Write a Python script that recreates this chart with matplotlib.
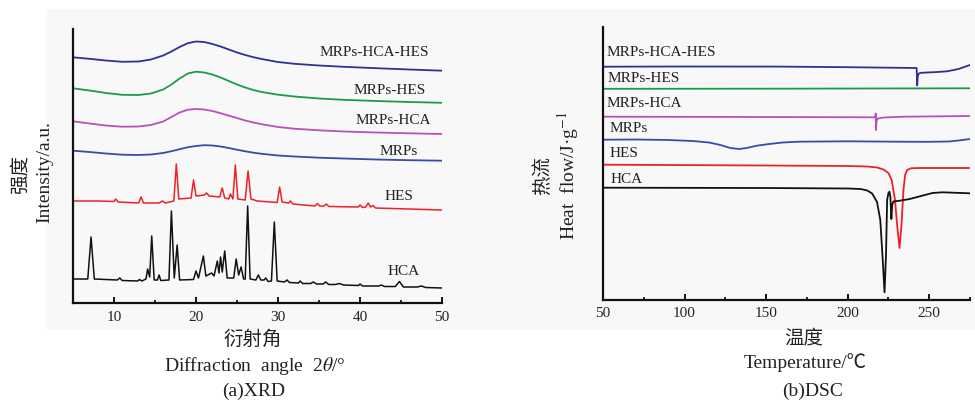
import matplotlib
matplotlib.use("Agg")
import matplotlib.pyplot as plt
from matplotlib.patches import Rectangle
from matplotlib.ticker import MultipleLocator

plt.rcParams['font.family'] = ['Liberation Serif', 'Noto Sans CJK SC', 'DejaVu Sans']
plt.rcParams['mathtext.fontset'] = 'stix'

# ---------------- XRD data (a.u.) ----------------
xrd_broad_x = [5, 7, 9, 11, 13, 14.5, 16, 17, 18, 19, 20, 21, 22, 23, 24, 25,
               26, 27, 28, 30, 32, 35, 38, 42, 46, 50]
xrd_mrps_hca_hes = [245.7, 244.2, 242.5, 241.2, 241.5, 243.5, 247.5, 251.5, 256, 259.8,
                    261.5, 261, 259, 256.5, 253.5, 250.5, 248, 245.8, 244, 241,
                    239.2, 237.5, 236.2, 234.8, 233.5, 232.3]
xrd_mrps_hes = [214.7, 212.5, 210, 208.2, 208, 209.5, 213.5, 218.5, 224.5, 229.5,
                231.3, 230.5, 228.5, 225.5, 222, 218.5, 215.5, 213, 211, 208.3,
                206.5, 204.5, 203.2, 202, 201, 200.2]
xrd_mrps_hca = [181.7, 179.5, 177.5, 176.3, 176.5, 178, 181.5, 186, 190.5, 193.3,
                194, 193.5, 192, 189.8, 187.3, 185, 182.5, 180.5, 178.8, 176,
                174.3, 172.7, 171.5, 170.5, 169.7, 169]
xrd_mrps = [152.3, 151, 149.5, 148.3, 148, 148.5, 150, 151.8, 153.8, 155.8,
            157, 157.8, 157.5, 156.5, 155, 153.3, 151.7, 150.3, 149.2, 147.5,
            146.5, 145.3, 144.5, 143.5, 142.8, 142.3]

xrd_hes_x = [5, 8, 10.0, 10.2, 10.5, 13.0, 13.3, 13.6, 15.5, 15.9, 16.3, 17.3, 17.6, 17.9,
             19.4, 19.7, 20.0, 21.0, 21.3, 21.6, 22.9, 23.2, 23.5, 24.0, 24.2, 24.5,
             24.8, 25.1, 26.0, 26.35, 26.7, 27.5, 29.9, 30.2, 30.5, 31.3, 31.5, 31.8,
             34.5, 34.8, 35.1, 35.6, 35.9, 36.2, 39.8, 40.0, 40.3, 40.7, 41.0, 41.3,
             41.6, 41.9, 50]
xrd_hes_y = [102, 102, 101.5, 104, 101, 100, 106, 100, 100, 102, 100, 102, 139, 104,
             105, 123, 107, 108, 110, 107, 106, 115, 105, 104, 109, 104,
             138, 104, 103, 132, 104, 102, 100.5, 116, 101, 100, 102, 99,
             97, 99.5, 97, 97, 99, 96.5, 96, 98, 95.5, 96, 100, 96,
             97.5, 95, 93]

xrd_hca_x = [5, 6.8, 7.2, 7.6, 10.4, 10.7, 11.0, 12.9, 13.1, 13.4, 13.9, 14.1, 14.35, 14.6,
             14.9, 15.3, 15.5, 15.7, 16.7, 17.0, 17.35, 17.7, 18.0, 19.7, 20.0, 20.3,
             20.9, 21.2, 21.9, 22.2, 22.6, 22.8, 23.0, 23.2, 23.5, 23.8, 24.6, 24.9,
             25.2, 25.5, 25.8, 26.0, 26.3, 26.6, 27.3, 27.6, 27.9, 28.3, 28.5, 28.8,
             29.2, 29.55, 29.9, 30.8, 31.1, 31.4, 32.5, 32.7, 33.0, 34.0, 34.3, 34.7,
             35.5, 35.8, 36.2, 37.0, 37.5, 38.0, 39.8, 40.0, 40.3, 42.3, 42.6, 43.0,
             44.3, 44.8, 45.3, 47.0, 47.5, 48.0, 50]
xrd_hca_y = [24, 24, 66, 24, 23, 25, 22.5, 22, 23.5, 22, 24, 34, 26, 67,
             23, 23, 28, 22.5, 23, 92, 25, 58, 23, 23.5, 32, 25,
             47, 27, 30, 27, 42, 30, 46, 31, 52, 25, 25, 44,
             28, 36, 24, 24, 97, 24, 23, 28, 23, 23, 25, 21.5,
             22, 81, 22, 21, 23, 20.5, 20, 22, 19.5, 19.5, 21, 19,
             19, 21, 18.5, 18.5, 19.5, 18, 17.5, 19, 17, 17, 18, 16.5,
             16.5, 21.5, 16, 16, 17, 15.5, 15]

# ---------------- DSC data (a.u.) ----------------
dsc_mrps_hca_hes_x = [50, 100, 158, 200, 242.3, 242.6, 243.0, 243.6, 245, 250, 255, 261, 268, 275]
dsc_mrps_hca_hes_y = [233.3, 233.5, 233.4, 232.8, 232, 214.5, 224, 226.5, 227.2, 227.6, 228, 228.7, 231, 235]

dsc_mrps_hes_x = [50, 150, 275]
dsc_mrps_hes_y = [211.2, 211.3, 211.7]

dsc_mrps_hca_x = [50, 150, 217.0, 217.2, 217.35, 217.7, 218.5, 222, 235, 275]
dsc_mrps_hca_y = [183.3, 183, 182.7, 186.5, 170, 179, 181.5, 182.5, 183.3, 184]

dsc_mrps_x = [50, 70, 90, 105, 115, 122, 128, 133.5, 138, 145, 152, 160, 170, 200,
              230, 250, 262, 268, 275]
dsc_mrps_y = [160.3, 160.5, 160, 159, 157.5, 155, 152, 151, 152, 154.5, 156, 157.5, 158.3, 158.7,
              158.3, 158.2, 158.5, 159.5, 161]

dsc_hes_x = [50, 150, 200, 212, 218, 222, 225, 227, 229, 230.5, 231.8, 233, 234.2, 235.2,
             236.5, 239, 245, 275]
dsc_hes_y = [135.3, 134.5, 134, 133.5, 132.5, 130.5, 127, 120, 100, 72, 52, 75, 110, 125,
             130, 131.8, 132, 132]

dsc_hca_x = [50, 150, 200, 208, 212, 215, 218, 220, 221.5, 222.6, 223.5, 224.2, 225, 225.6,
             226.2, 226.8, 227.3, 228, 232, 238, 245, 252, 258, 275]
dsc_hca_y = [112.3, 112, 111.5, 111, 109.5, 106.5, 98, 80, 40, 7.7, 45, 100, 107, 108.3,
             103, 81, 95, 98.5, 99.3, 101, 104, 107, 107.7, 106.7]

c_navy = '#2e3192'
c_green = '#1c9a4a'
c_magenta = '#bb4fb8'
c_blue = '#3a4aa8'
c_red = '#ec2228'
c_black = '#111111'

fig = plt.figure(figsize=(9.75, 4.02), dpi=100)
W, H = 975, 402
# faint grey backdrop behind both panels, as in the scanned figure
fig.patches.append(Rectangle((46 / W, 1 - 331 / H), (W - 46) / W, 321 / H,
                             transform=fig.transFigure, facecolor='#f8f8f8',
                             edgecolor='none', zorder=-10))


def style_axes(ax):
    ax.set_facecolor('none')
    for s in ['top', 'right']:
        ax.spines[s].set_visible(False)
    for s in ['left', 'bottom']:
        ax.spines[s].set_linewidth(1.6)
        ax.spines[s].set_color('#111111')
    ax.set_yticks([])
    ax.tick_params(axis='x', which='major', direction='in', length=4, width=1.3,
                   labelsize=11, pad=5, labelcolor='#222222')
    ax.tick_params(axis='x', which='minor', direction='in', length=2.5, width=1.2)


lw = 1.3
# (a) XRD
ax1 = fig.add_axes([73 / W, 1 - 304 / H, 369 / W, 274 / H])
style_axes(ax1)
ax1.plot(xrd_broad_x, xrd_mrps_hca_hes, color=c_navy, lw=lw)
ax1.plot(xrd_broad_x, xrd_mrps_hes, color=c_green, lw=lw)
ax1.plot(xrd_broad_x, xrd_mrps_hca, color=c_magenta, lw=lw)
ax1.plot(xrd_broad_x, xrd_mrps, color=c_blue, lw=lw)
ax1.plot(xrd_hes_x, xrd_hes_y, color=c_red, lw=1.1)
ax1.plot(xrd_hca_x, xrd_hca_y, color=c_black, lw=1.1)
ax1.set_xlim(5, 50)
ax1.set_ylim(0, 274)
ax1.xaxis.set_major_locator(MultipleLocator(10))
ax1.xaxis.set_minor_locator(MultipleLocator(5))
lab_kw = dict(fontsize=11, ha='center', va='center', color='#222222')
ax1.text(41.8, 251.3, 'MRPs-HCA-HES', **lab_kw)
ax1.text(43.6, 213.3, 'MRPs-HES', **lab_kw)
ax1.text(44.1, 183, 'MRPs-HCA', **lab_kw)
ax1.text(44.7, 152.3, 'MRPs', **lab_kw)
ax1.text(44.8, 107.3, 'HES', **lab_kw)
ax1.text(45.3, 32.3, 'HCA', **lab_kw)

# (b) DSC
ax2 = fig.add_axes([603 / W, 1 - 301 / H, 367 / W, 273 / H])
style_axes(ax2)
ax2.tick_params(axis='x', which='major', pad=4)
ax2.plot(dsc_mrps_hca_hes_x, dsc_mrps_hca_hes_y, color=c_navy, lw=lw)
ax2.plot(dsc_mrps_hes_x, dsc_mrps_hes_y, color=c_green, lw=lw)
ax2.plot(dsc_mrps_hca_x, dsc_mrps_hca_y, color=c_magenta, lw=lw)
ax2.plot(dsc_mrps_x, dsc_mrps_y, color=c_blue, lw=lw)
ax2.plot(dsc_hes_x, dsc_hes_y, color=c_red, lw=lw)
ax2.plot(dsc_hca_x, dsc_hca_y, color=c_black, lw=lw)
ax2.set_xlim(50, 275)
ax2.set_ylim(0, 273)
ax2.xaxis.set_major_locator(MultipleLocator(50))
ax2.xaxis.set_minor_locator(MultipleLocator(25))
lab_kw2 = dict(fontsize=11, ha='left', va='center', color='#222222')
ax2.text(52.3, 248.3, 'MRPs-HCA-HES', **lab_kw2)
ax2.text(52.9, 222, 'MRPs-HES', **lab_kw2)
ax2.text(52.3, 197.7, 'MRPs-HCA', **lab_kw2)
ax2.text(53.9, 172.7, 'MRPs', **lab_kw2)
ax2.text(54.3, 147, 'HES', **lab_kw2)
ax2.text(54.7, 121.7, 'HCA', **lab_kw2)


def ftext(px, py, s, **kw):
    fig.text(px / W, 1 - py / H, s, ha='center', va='center', color='#222222', **kw)


# axis titles, panel (a)
ftext(253, 339, '衍射角', fontsize=14, family=['Noto Sans CJK SC'])
ftext(255, 366, 'Diffraction  angle  2$\\theta$/°', fontsize=14)
ftext(254, 391, '(a)XRD', fontsize=14)
ftext(20, 175, '强度', fontsize=14, rotation=90, family=['Noto Sans CJK SC'])
ftext(45, 172, 'Intensity/a.u.', fontsize=14, rotation=90)

# axis titles, panel (b)
ftext(804, 338, '温度', fontsize=14, family=['Noto Sans CJK SC'])
ftext(805, 363, 'Temperature/℃', fontsize=14,
      family=['Liberation Serif', 'Noto Sans CJK SC'])
ftext(813, 391, '(b)DSC', fontsize=14)
ftext(543, 176, '热流', fontsize=14, rotation=90, family=['Noto Sans CJK SC'])
ftext(568, 176, 'Heat  flow/J·g$^{-1}$', fontsize=14, rotation=90)

fig.savefig('out.png', dpi=100)
